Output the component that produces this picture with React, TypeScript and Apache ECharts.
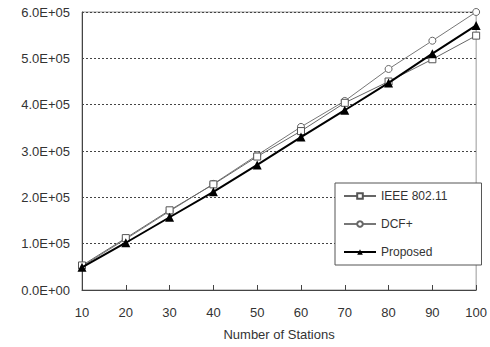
import React, { useEffect, useRef } from "react";
import * as echarts from "echarts";

const stations = [10, 20, 30, 40, 50, 60, 70, 80, 90, 100];
const ieee = [53000, 112000, 172000, 228000, 288000, 343000, 404000, 450000, 498000, 549000];
const dcf = [51000, 110000, 170000, 229000, 291000, 352000, 408000, 477000, 538000, 600000];
const proposed = [49000, 102000, 157000, 212000, 270000, 330000, 388000, 447000, 510000, 571000];

const pair = (ys: number[]) => stations.map((x, i) => [x, ys[i]]);

const fmtY = (v: number) => {
  if (v === 0) return "0.0E+00";
  return (v / 1e5).toFixed(1) + "E+05";
};

export default function App() {
  const ref = useRef<HTMLDivElement>(null);
  useEffect(() => {
    const chart = echarts.init(ref.current!, null, { renderer: "svg" });
    const font = "Liberation Sans";
    chart.setOption({
      animation: false,
      backgroundColor: "#fff",
      textStyle: { fontFamily: font },
      grid: {
        left: 82, right: 12, top: 12, bottom: 57,
        show: true, borderColor: "#999", borderWidth: 1, backgroundColor: "transparent",
      },
      legend: {
        orient: "vertical",
        left: 335, top: 183, width: 142,
        backgroundColor: "#fff",
        borderColor: "#555", borderWidth: 1,
        padding: [7, 34, 7, 8],
        itemGap: 16,
        itemWidth: 32, itemHeight: 7,
        textStyle: { fontFamily: font, fontSize: 12, color: "#333" },
        data: ["IEEE 802.11", "DCF+", "Proposed"],
      },
      xAxis: {
        type: "value", min: 10, max: 100, interval: 10,
        name: "Number of Stations", nameLocation: "middle", nameGap: 38,
        nameTextStyle: { fontFamily: font, fontSize: 13, color: "#333" },
        axisLine: { show: true, lineStyle: { color: "#444", width: 1 } },
        axisTick: { show: true, inside: true, length: 5, lineStyle: { color: "#444" } },
        axisLabel: { fontFamily: font, fontSize: 13, color: "#333", margin: 16 },
        splitLine: { show: false },
      },
      yAxis: {
        type: "value", min: 0, max: 600000, interval: 100000,
        axisLine: { show: true, lineStyle: { color: "#444", width: 1 } },
        axisTick: { show: false },
        axisLabel: { fontFamily: font, fontSize: 13, color: "#333", margin: 12, formatter: fmtY },
        splitLine: { show: true, lineStyle: { color: "#444", type: [2, 2], width: 1 } },
      },
      series: [
        {
          name: "IEEE 802.11", type: "line", data: pair(ieee),
          symbol: "rect", symbolSize: 7, showAllSymbol: true,
          lineStyle: { color: "#666", width: 1 },
          itemStyle: { color: "#fff", borderColor: "#555", borderWidth: 1 },
          z: 3,
        },
        {
          name: "DCF+", type: "line", data: pair(dcf),
          symbol: "circle", symbolSize: 7, showAllSymbol: true,
          lineStyle: { color: "#777", width: 1 },
          itemStyle: { color: "#fff", borderColor: "#666", borderWidth: 1 },
          z: 2,
        },
        {
          name: "Proposed", type: "line", data: pair(proposed),
          symbol: "triangle", symbolSize: 9, showAllSymbol: true,
          lineStyle: { color: "#000", width: 2 },
          itemStyle: { color: "#000" },
          z: 4,
        },
      ],
    });
    return () => chart.dispose();
  }, []);
  return <div ref={ref} style={{ width: 490, height: 347, position: "absolute", left: 0, top: 0 }} />;
}
